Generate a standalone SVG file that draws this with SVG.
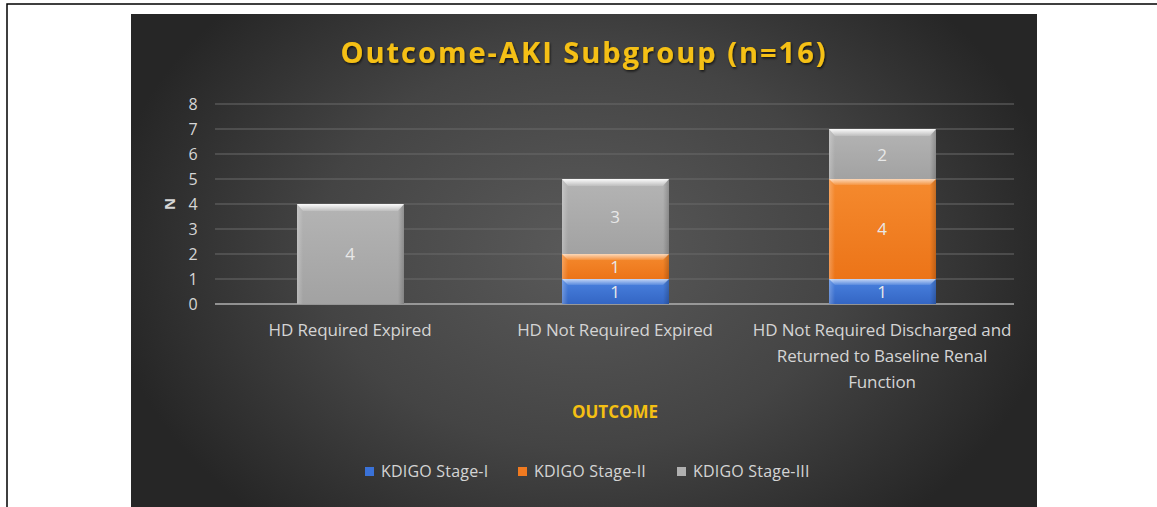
<svg xmlns="http://www.w3.org/2000/svg" width="1157" height="507" viewBox="0 0 1157 507">
<defs>
<radialGradient id="bg" cx="583" cy="250" r="480" gradientUnits="userSpaceOnUse" gradientTransform="translate(583 250) scale(1 0.75) translate(-583 -250)">
<stop offset="0" stop-color="#5a5a5a"/>
<stop offset="0.55" stop-color="#444444"/>
<stop offset="1" stop-color="#262626"/>
</radialGradient>
<linearGradient id="gGray" x1="0" y1="0" x2="0" y2="1">
<stop offset="0" stop-color="#b4b4b4"/>
<stop offset="1" stop-color="#a2a2a2"/>
</linearGradient>
<linearGradient id="gOrange" x1="0" y1="0" x2="0" y2="1">
<stop offset="0" stop-color="#f58a2e"/>
<stop offset="1" stop-color="#ec7418"/>
</linearGradient>
<linearGradient id="gBlue" x1="0" y1="0" x2="0" y2="1">
<stop offset="0" stop-color="#4a82e0"/>
<stop offset="1" stop-color="#3466c4"/>
</linearGradient>
<linearGradient id="hl" x1="0" y1="0" x2="0" y2="1">
<stop offset="0" stop-color="#ffffff" stop-opacity="0.95"/>
<stop offset="1" stop-color="#ffffff" stop-opacity="0.15"/>
</linearGradient>
<linearGradient id="sideL" x1="0" y1="0" x2="1" y2="0">
<stop offset="0" stop-color="#ffffff" stop-opacity="0.25"/>
<stop offset="1" stop-color="#ffffff" stop-opacity="0"/>
</linearGradient>
<linearGradient id="sideR" x1="0" y1="0" x2="1" y2="0">
<stop offset="0" stop-color="#000000" stop-opacity="0"/>
<stop offset="1" stop-color="#000000" stop-opacity="0.2"/>
</linearGradient>
<filter id="sh" x="-5%" y="-20%" width="110%" height="140%">
<feDropShadow dx="1" dy="1.5" stdDeviation="1" flood-color="#000" flood-opacity="0.7"/>
</filter>
</defs>
<style>
.frame{stroke:#000;stroke-width:1.5;fill:none}
.grid{stroke:#6a6a6a;stroke-width:1}
.axis{stroke:#b0b0b0;stroke-width:1.5}
.tick{font-family:"Open Sans","Liberation Sans",sans-serif;font-size:16px;fill:#d6d6d6;text-anchor:middle}
.cat{font-family:"Open Sans","Liberation Sans",sans-serif;font-size:17px;fill:#d4d4d4;text-anchor:middle;letter-spacing:-0.15px}
.val{font-family:"Open Sans","Liberation Sans",sans-serif;font-size:17px;fill:#e8e8e8;text-anchor:middle}
.title{font-family:"Open Sans","Liberation Sans",sans-serif;font-size:29px;font-weight:bold;fill:#f5c013;text-anchor:middle;letter-spacing:2px}
.otitle{font-family:"Open Sans","Liberation Sans",sans-serif;font-size:17px;font-weight:bold;fill:#f5c013;text-anchor:middle}
.leg{font-family:"Open Sans","Liberation Sans",sans-serif;font-size:16px;fill:#d4d4d4;letter-spacing:0.2px}
.hl{fill:url(#hl)}
.sl{fill:url(#sideL)}
.sr{fill:url(#sideR)}
</style>
<rect width="1157" height="507" fill="#ffffff"/>
<path class="frame" d="M7 507 V4 H1157"/>
<rect x="131" y="14" width="906" height="493" fill="url(#bg)"/>

<g id="title"><text class="title" x="584" y="63" filter="url(#sh)">Outcome-AKI Subgroup (n=16)</text></g>

<g id="gridlines">
<line class="grid" x1="215" y1="104" x2="1014" y2="104"/>
<line class="grid" x1="215" y1="129" x2="1014" y2="129"/>
<line class="grid" x1="215" y1="154" x2="1014" y2="154"/>
<line class="grid" x1="215" y1="179" x2="1014" y2="179"/>
<line class="grid" x1="215" y1="204" x2="1014" y2="204"/>
<line class="grid" x1="215" y1="229" x2="1014" y2="229"/>
<line class="grid" x1="215" y1="254" x2="1014" y2="254"/>
<line class="grid" x1="215" y1="279" x2="1014" y2="279"/>
<line class="axis" x1="215" y1="304" x2="1014" y2="304"/>
</g>

<g id="yaxis">
<text class="tick" x="193" y="110">8</text>
<text class="tick" x="193" y="135">7</text>
<text class="tick" x="193" y="160">6</text>
<text class="tick" x="193" y="185">5</text>
<text class="tick" x="193" y="210">4</text>
<text class="tick" x="193" y="235">3</text>
<text class="tick" x="193" y="260">2</text>
<text class="tick" x="193" y="285">1</text>
<text class="tick" x="193" y="310">0</text>
<text x="169" y="204" transform="rotate(-90 169 204)" font-family="'Open Sans','Liberation Sans',sans-serif" font-size="15" font-weight="bold" fill="#d6d6d6" text-anchor="middle" dominant-baseline="central">N</text>
</g>

<g id="bar1">
<rect x="297" y="204" width="107" height="100" fill="url(#gGray)"/>
<rect class="sl" x="297" y="204" width="6" height="100"/>
<rect class="sr" x="398" y="204" width="6" height="100"/>
<polygon class="hl" points="297,204 404,204 398,211 303,211"/>
<text class="val" x="350" y="260">4</text>
</g>

<g id="bar2">
<rect x="562" y="279" width="107" height="25" fill="url(#gBlue)"/>
<rect class="sl" x="562" y="279" width="6" height="25"/>
<rect class="sr" x="663" y="279" width="6" height="25"/>
<polygon class="hl" points="562,279 669,279 663,285 568,285" opacity="0.7"/>
<text class="val" x="615" y="298">1</text>
<rect x="562" y="254" width="107" height="25" fill="url(#gOrange)"/>
<rect class="sl" x="562" y="254" width="6" height="25"/>
<rect class="sr" x="663" y="254" width="6" height="25"/>
<polygon class="hl" points="562,254 669,254 663,260 568,260" opacity="0.7"/>
<text class="val" x="615" y="273">1</text>
<rect x="562" y="179" width="107" height="75" fill="url(#gGray)"/>
<rect class="sl" x="562" y="179" width="6" height="75"/>
<rect class="sr" x="663" y="179" width="6" height="75"/>
<polygon class="hl" points="562,179 669,179 663,186 568,186"/>
<text class="val" x="615" y="223">3</text>
</g>

<g id="bar3">
<rect x="829" y="279" width="107" height="25" fill="url(#gBlue)"/>
<rect class="sl" x="829" y="279" width="6" height="25"/>
<rect class="sr" x="930" y="279" width="6" height="25"/>
<polygon class="hl" points="829,279 936,279 930,285 835,285" opacity="0.7"/>
<text class="val" x="882" y="298">1</text>
<rect x="829" y="179" width="107" height="100" fill="url(#gOrange)"/>
<rect class="sl" x="829" y="179" width="6" height="100"/>
<rect class="sr" x="930" y="179" width="6" height="100"/>
<polygon class="hl" points="829,179 936,179 930,185 835,185" opacity="0.7"/>
<text class="val" x="882" y="235">4</text>
<rect x="829" y="129" width="107" height="50" fill="url(#gGray)"/>
<rect class="sl" x="829" y="129" width="6" height="50"/>
<rect class="sr" x="930" y="129" width="6" height="50"/>
<polygon class="hl" points="829,129 936,129 930,136 835,136"/>
<text class="val" x="882" y="161">2</text>
</g>

<g id="categories">
<text class="cat" x="350" y="336">HD Required Expired</text>
<text class="cat" x="615" y="336">HD Not Required Expired</text>
<text class="cat" x="882" y="336">HD Not Required Discharged and</text>
<text class="cat" x="882" y="362">Returned to Baseline Renal</text>
<text class="cat" x="882" y="388">Function</text>
</g>

<g id="xtitle"><text class="otitle" x="615" y="418">OUTCOME</text></g>

<g id="legend">
<rect x="365" y="467" width="9" height="9" fill="#3a72d8"/>
<text class="leg" x="381" y="477">KDIGO Stage-I</text>
<rect x="518" y="467" width="9" height="9" fill="#f07a20"/>
<text class="leg" x="534" y="477">KDIGO Stage-II</text>
<rect x="677" y="467" width="9" height="9" fill="#b0b0b0"/>
<text class="leg" x="693" y="477">KDIGO Stage-III</text>
</g>
</svg>
